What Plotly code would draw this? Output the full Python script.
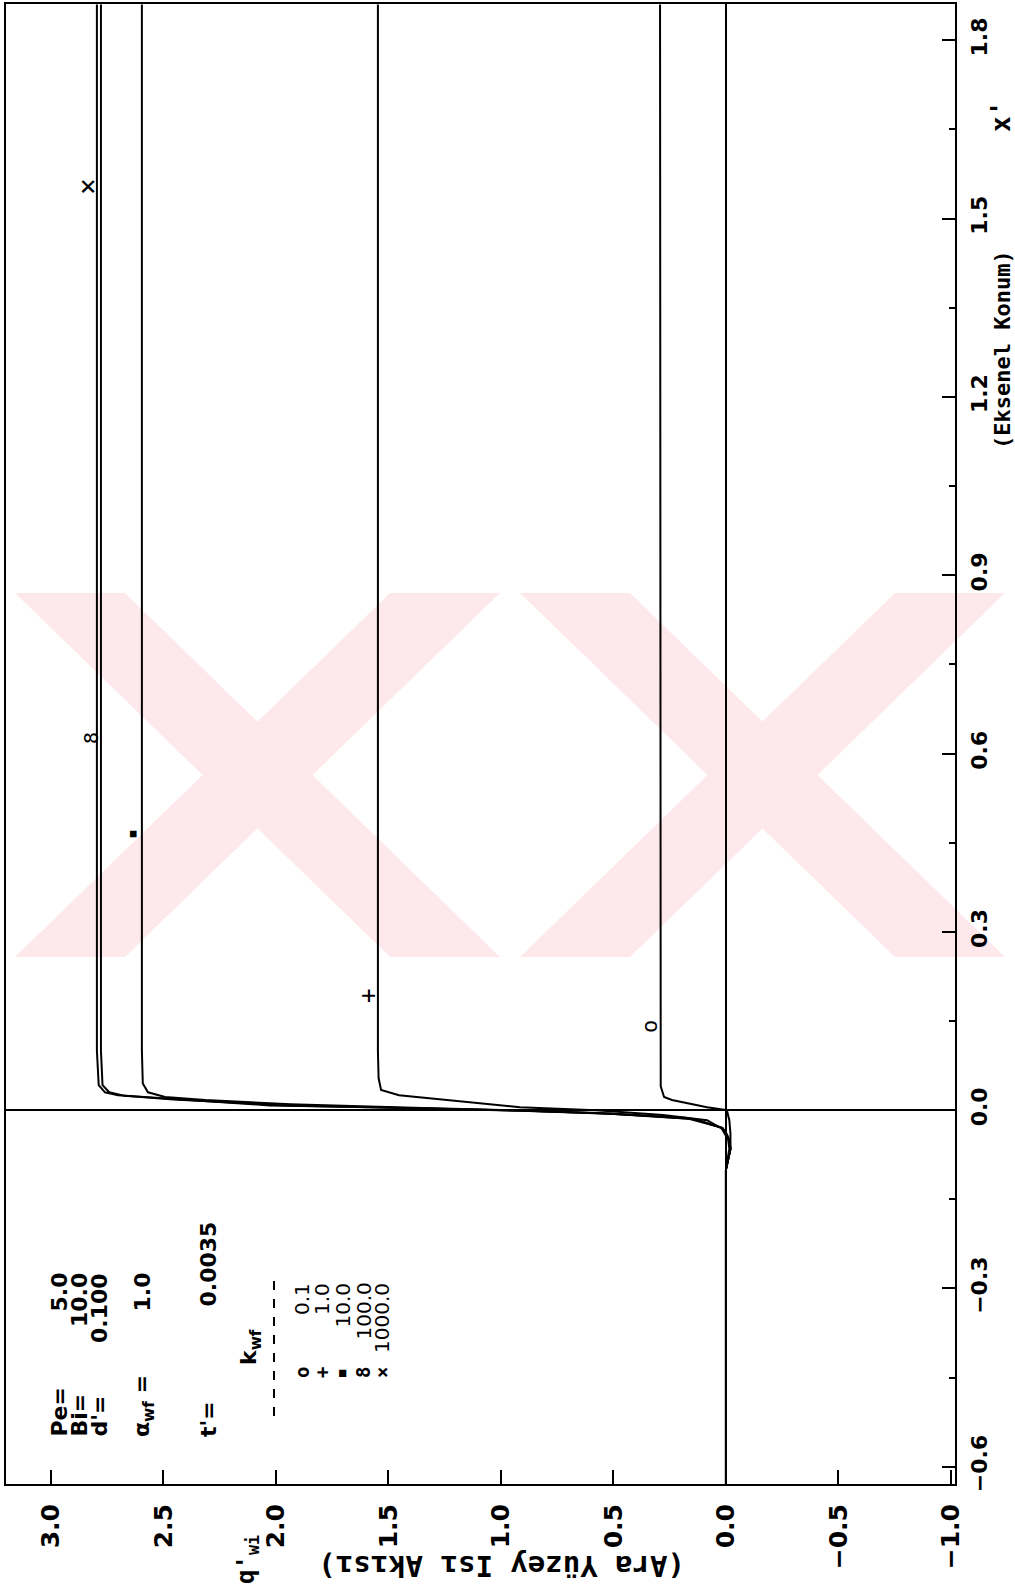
import plotly.graph_objects as go

# ---------------- data ----------------
# x' = axial position, q = interface heat flux, one series per k_wf
kwf_labels = ["0.1", "1.0", "10.0", "100.0", "1000.0"]
kwf_symbols = ["o", "+", "■", "8", "×"]

xp_01 = [-0.63, -0.10, -0.065, -0.040, -0.017, 0.000, 0.005, 0.012, 0.017, 0.022, 0.040, 1.86]
q_01 = [0.0, 0.0, -0.020, -0.020, -0.015, -0.004, 0.084, 0.182, 0.240, 0.275, 0.290, 0.293]

xp_1 = [-0.63, -0.10, -0.065, -0.050, -0.034, -0.017, -0.008, 0.000, 0.005, 0.013, 0.019, 0.025, 0.034, 0.054, 0.10, 1.86]
q_1 = [0.0, 0.0, -0.020, -0.015, 0.004, 0.084, 0.280, 0.578, 0.916, 1.133, 1.276, 1.453, 1.533, 1.544, 1.547, 1.547]

xp_10 = [-0.63, -0.10, -0.065, -0.050, -0.030, -0.015, -0.006, -0.001, 0.004, 0.010, 0.017, 0.022, 0.030, 0.045, 0.10, 1.86]
q_10 = [0.0, 0.0, -0.020, -0.015, 0.015, 0.139, 0.497, 0.874, 1.390, 1.936, 2.314, 2.493, 2.569, 2.592, 2.596, 2.596]

xp_100 = [-0.63, -0.10, -0.065, -0.050, -0.030, -0.015, -0.006, -0.001, 0.004, 0.008, 0.018, 0.024, 0.030, 0.042, 0.10, 1.86]
q_100 = [0.0, 0.0, -0.020, -0.015, 0.015, 0.148, 0.515, 0.910, 1.485, 1.960, 2.455, 2.672, 2.741, 2.771, 2.778, 2.778]

xp_1000 = [-0.63, -0.10, -0.065, -0.050, -0.029, -0.013, -0.005, 0.000, 0.005, 0.008, 0.020, 0.025, 0.030, 0.042, 0.10, 1.86]
q_1000 = [0.0, 0.0, -0.015, -0.010, 0.022, 0.182, 0.578, 0.978, 1.573, 2.027, 2.502, 2.702, 2.760, 2.788, 2.796, 2.796]

series_xp = [xp_01, xp_1, xp_10, xp_100, xp_1000]
series_q = [q_01, q_1, q_10, q_100, q_1000]

# x' position of the symbol drawn on each curve
symbol_xp = [0.140, 0.192, 0.466, 0.626, 1.553]

# parameter block
param_names = ["Pe=", "Bi=", "d'="]
param_values = ["5.0", "10.0", "0.100"]
alpha_value = "1.0"
t_value = "0.0035"

# axes
q_ticks = [3.0, 2.5, 2.0, 1.5, 1.0, 0.5, 0.0, -0.5, -1.0]
q_ticktext = ["3.0", "2.5", "2.0", "1.5", "1.0", "0.5", "0.0", "−0.5", "−1.0"]
xp_ticks = [-0.6, -0.3, 0.0, 0.3, 0.6, 0.9, 1.2, 1.5, 1.8]
xp_ticktext = ["−0.6", "−0.3", "0.0", "0.3", "0.6", "0.9", "1.2", "1.5", "1.8"]
xp_minor = [-0.45, -0.15, 0.15, 0.45, 0.75, 1.05, 1.35, 1.65]

# ---------------- geometry ----------------
W, H = 1015, 1588
L, R, T, B = 6, 955, 4, 1484
q_range = [3.20, -1.018]
xp_range = [-0.629, 1.861]


def px(x):
    return (x - L) / (R - L)


def py(y):
    return (B - y) / (B - T)


MONO = "DejaVu Sans Mono"
SANS = "DejaVu Sans"
fig = go.Figure()

for xs, qs in zip(series_xp, series_q):
    fig.add_trace(go.Scatter(x=qs, y=xs, mode="lines",
                             line=dict(color="black", width=2),
                             showlegend=False, hoverinfo="skip"))

ann = []


def add_text(text, x, y, size=22, angle=-90, xa="center", ya="middle", bold=True, family=SANS):
    ann.append(dict(text=text, x=px(x), y=py(y), xref="paper", yref="paper",
                    showarrow=False, textangle=angle, xanchor=xa, yanchor=ya,
                    font=dict(family=family, size=size, color="black",
                              weight="bold" if bold else "normal")))


# symbols on the curves
sym_size = {"o": 22, "+": 24, "■": 11, "8": 20, "×": 28}
for sym, xpv, qs in zip(kwf_symbols, symbol_xp, series_q):
    ann.append(dict(text=sym, x=qs[-1] + 0.044, y=xpv, xref="x", yref="y",
                    showarrow=False, textangle=-90,
                    font=dict(family=MONO, size=sym_size[sym], color="black")))

# parameter block
cols = [59, 79, 99]
for c, n, v in zip(cols, param_names, param_values):
    add_text(n, c, 1439, ya="bottom")
    add_text(v, c, 1271, ya="top")
add_text("α<sub>wf</sub> =", 143, 1439, ya="bottom")
add_text(alpha_value, 142, 1271, ya="top")
add_text("t'=", 208, 1439, ya="bottom")
add_text(t_value, 208, 1220, ya="top")
add_text("k<sub>wf</sub>", 250, 1347, size=22)

leg_cols = [302, 322, 342, 363, 382]
for c, sym, lab in zip(leg_cols, kwf_symbols, kwf_labels):
    add_text(sym, c, 1373, size=12 if sym == "■" else 19, family=MONO)
    add_text(lab, c, 1281, size=20, ya="top", bold=False)

# axis titles
add_text("x'", 1001, 117, size=26, family=MONO)
add_text("(Eksenel Konum)", 1002, 350, size=22, family=MONO)
add_text("q'<sub>wi</sub>", 248, 1560, size=24, family=MONO)
add_text("(Ara Yüzey Isı Akısı)", 501, 1566, size=29, angle=180, family=MONO)

shapes = []
# dashed rule under k_wf
shapes.append(dict(type="line", xref="paper", yref="paper",
                   x0=px(274), x1=px(274), y0=py(1281), y1=py(1418),
                   line=dict(color="black", width=2, dash="dash")))

# faint watermark
wm_top, wm_bot = 593, 957
bands = [((15, 125), (390, 500)), ((390, 500), (15, 125)),
         ((520, 630), (895, 1005)), ((895, 1005), (520, 630))]
for (t0, t1), (b0, b1) in bands:
    path = "M {} {} L {} {} L {} {} L {} {} Z".format(
        px(t0), py(wm_top), px(t1), py(wm_top), px(b1), py(wm_bot), px(b0), py(wm_bot))
    shapes.append(dict(type="path", xref="paper", yref="paper", path=path,
                       fillcolor="#fde8ec", line=dict(width=0), layer="below"))

fig.update_layout(
    width=W, height=H,
    margin=dict(l=L, r=W - R, t=T, b=H - B, pad=0),
    paper_bgcolor="white", plot_bgcolor="white",
    annotations=ann, shapes=shapes,
    xaxis=dict(range=q_range, side="bottom", tickvals=q_ticks, ticktext=q_ticktext,
               tickangle=-90, ticks="inside", ticklen=14, tickwidth=2, tickcolor="black",
               showline=True, mirror=True, linecolor="black", linewidth=2,
               showgrid=False, zeroline=True, zerolinecolor="black", zerolinewidth=2,
               ticklabelstandoff=8, automargin=False,
               tickfont=dict(family=SANS, size=25, color="black", weight="bold")),
    yaxis=dict(range=xp_range, side="right", tickvals=xp_ticks, ticktext=xp_ticktext,
               tickangle=-90, ticks="inside", ticklen=13, tickwidth=2, tickcolor="black",
               minor=dict(tickvals=xp_minor, ticks="inside", ticklen=6, tickwidth=2,
                          tickcolor="black"),
               showline=True, mirror=True, linecolor="black", linewidth=2,
               showgrid=False, zeroline=True, zerolinecolor="black", zerolinewidth=2,
               ticklabelstandoff=4, automargin=False,
               tickfont=dict(family=SANS, size=22, color="black", weight="bold")),
)

fig.write_html("out.html")
